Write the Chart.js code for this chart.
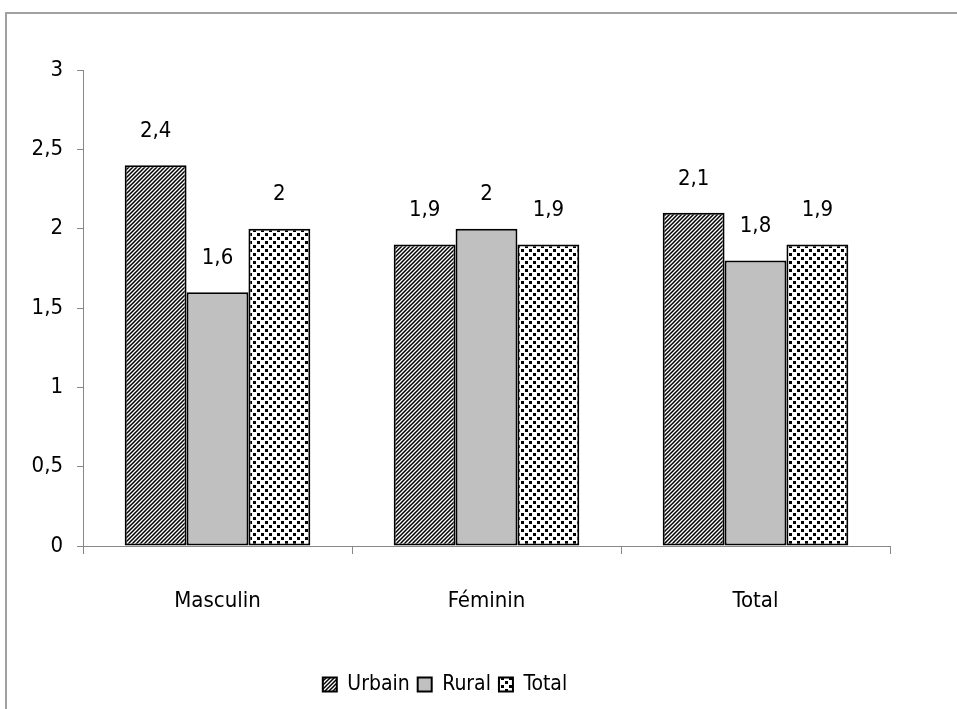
<!DOCTYPE html>
<html>
<head>
<meta charset="utf-8">
<script src="https://cdn.jsdelivr.net/npm/chart.js@4"></script>
<style>
  body { margin: 0; background: #fff; overflow: hidden; }
  #frame { position: absolute; left: 5px; top: 12px; width: 1000px; height: 800px;
           border-top: 2px solid #a0a0a0; border-left: 2px solid #a0a0a0; }
  #chart { position: absolute; left: 0; top: 0; }
</style>
</head>
<body>
<div id="frame"></div>
<canvas id="chart" width="957" height="709"></canvas>
<script>
const categories = ["Masculin", "Féminin", "Total"];
const urbain = [2.4, 1.9, 2.1];
const rural = [1.6, 2.0, 1.8];
const total = [2.0, 1.9, 1.9];
const seriesNames = ["Urbain", "Rural", "Total"];

const FONT = "'Liberation Sans Narrow', 'DejaVu Sans Condensed', sans-serif";

function comma(v) {
    return String(v).replace(".", ",");
}

// hatch "/" stripes
function stripes() {
    const c = document.createElement("canvas");
    c.width = 4; c.height = 4;
    const g = c.getContext("2d");
    g.fillStyle = "#fff";
    g.fillRect(0, 0, 4, 4);
    g.strokeStyle = "#000";
    g.lineWidth = 1.5;
    g.beginPath();
    g.moveTo(-1, 5); g.lineTo(5, -1);
    g.moveTo(-1, 1); g.lineTo(1, -1);
    g.moveTo(3, 5); g.lineTo(5, 3);
    g.stroke();
    return g.createPattern(c, "repeat");
}

// staggered dots
function dots() {
    const c = document.createElement("canvas");
    c.width = 8; c.height = 8;
    const g = c.getContext("2d");
    g.fillStyle = "#fff";
    g.fillRect(0, 0, 8, 8);
    g.fillStyle = "#000";
    g.fillRect(1, 1, 3, 3);
    g.fillRect(5, 5, 3, 3);
    return g.createPattern(c, "repeat");
}

const valueLabels = {
    id: "valueLabels",
    afterDatasetsDraw(chart) {
        const ctx = chart.ctx;
        ctx.save();
        ctx.font = "22px " + FONT;
        ctx.fillStyle = "#000";
        ctx.textAlign = "center";
        ctx.textBaseline = "middle";
        chart.data.datasets.forEach(function (ds, i) {
            chart.getDatasetMeta(i).data.forEach(function (bar, j) {
                ctx.fillText(comma(ds.data[j]), bar.x, bar.y - 34);
            });
        });
        ctx.restore();
    }
};

const data1 = {
    labels: categories,
    datasets: [
        { label: seriesNames[0], data: urbain, backgroundColor: stripes() },
        { label: seriesNames[1], data: rural, backgroundColor: "#c0c0c0" },
        { label: seriesNames[2], data: total, backgroundColor: dots() }
    ]
};

data1.datasets.forEach(function (d) {
    d.borderColor = "#000";
    d.borderWidth = 2;
    d.borderSkipped = false;
    d.categoryPercentage = 0.69;
    d.barPercentage = 1;
});

const config1 = {
    type: "bar",
    data: data1,
    plugins: [valueLabels],
    options: {
        responsive: false,
        animation: false,
        layout: { padding: { left: 0, right: 67, top: 70, bottom: 4 } },
        plugins: {
            tooltip: { enabled: false },
            legend: {
                position: "bottom",
                labels: {
                    boxWidth: 14, boxHeight: 14, padding: 8,
                    color: "#000",
                    font: { size: 21, family: FONT }
                }
            }
        },
        scales: {
            x: {
                grid: { offset: true, drawOnChartArea: false, tickLength: 8, color: "#888" },
                border: { color: "#888" },
                ticks: { color: "#000", padding: 34, font: { size: 22, family: FONT } },
                afterFit(s) { s.height = 120; }
            },
            y: {
                min: 0, max: 3,
                grid: { drawOnChartArea: false, tickLength: 6, color: "#888" },
                border: { color: "#888" },
                ticks: { stepSize: 0.5, color: "#000", padding: 14,
                         font: { size: 22, family: FONT }, callback: comma },
                afterFit(s) { s.width = 83; }
            }
        }
    }
};

new Chart(document.getElementById("chart"), config1);
</script>
</body>
</html>
